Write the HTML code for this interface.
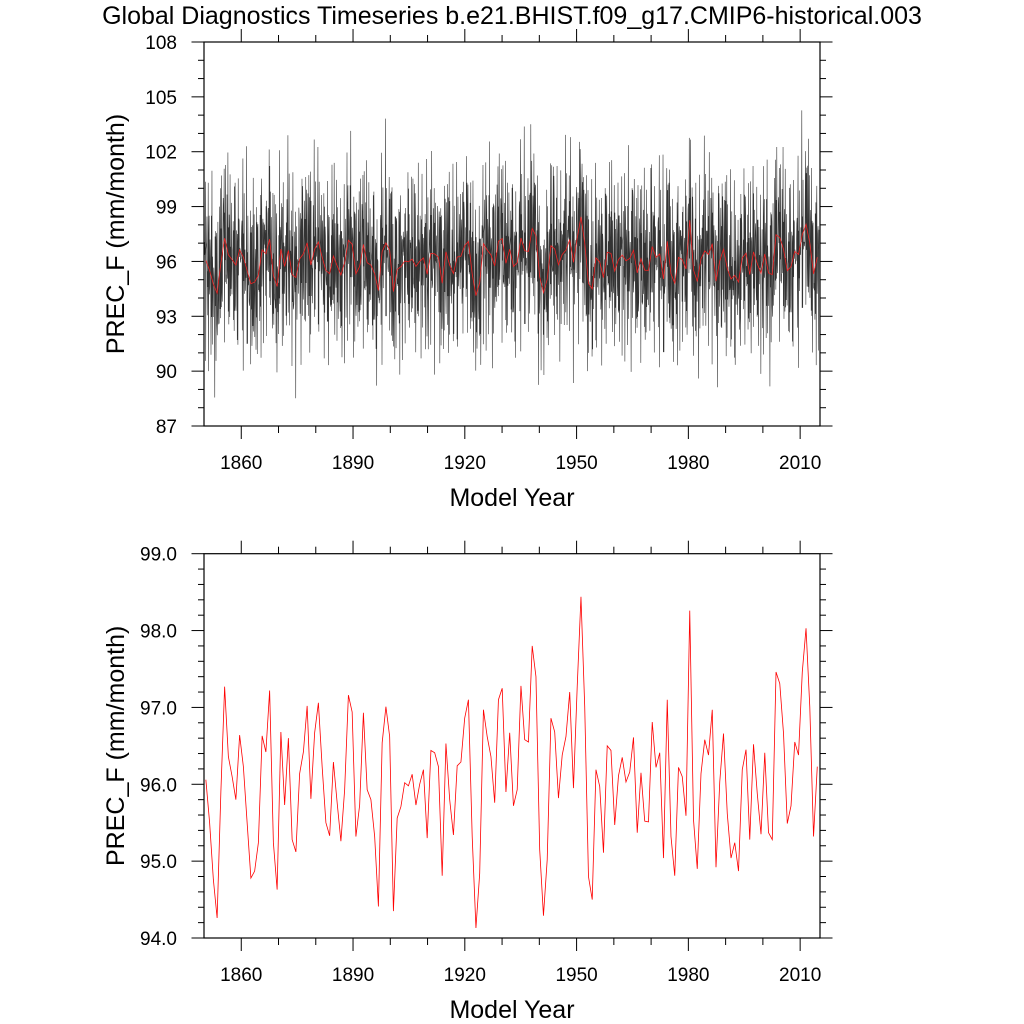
<!DOCTYPE html>
<html><head><meta charset="utf-8"><style>
html,body{margin:0;padding:0;background:#fff;width:1024px;height:1024px;overflow:hidden}
svg{display:block;font-family:"Liberation Sans",sans-serif}
</style></head><body>
<svg id="chart" width="1024" height="1024" viewBox="0 0 1024 1024">
<text x="512" y="24" text-anchor="middle" font-size="25">Global Diagnostics Timeseries b.e21.BHIST.f09_g17.CMIP6-historical.003</text>
<g id="top"></g>
<g id="bot"></g>
</svg>
<script>
const years = [];
for (let y = 1850; y <= 2013; y++) years.push(y);
const annualPrec = [96.06,95.5,94.76,94.26,95.9,97.27,96.36,96.1,95.8,96.64,96.23,95.5,94.78,94.87,95.24,96.63,96.42,97.22,95.24,94.63,
96.68,95.73,96.6,95.28,95.12,96.14,96.42,97.02,95.81,96.67,97.06,96.23,95.5,95.33,96.29,95.76,95.26,95.93,97.16,96.94,
95.32,95.73,96.93,95.93,95.8,95.32,94.41,96.54,97.01,96.62,94.35,95.56,95.71,96.02,95.98,96.13,95.73,96.0,96.19,95.3,
96.44,96.41,96.23,94.81,96.53,95.8,95.34,96.24,96.29,96.86,97.1,95.32,94.13,94.84,96.97,96.62,96.36,95.76,97.1,97.25,
95.9,96.67,95.72,95.93,97.28,96.58,96.55,97.8,97.4,95.15,94.29,95.02,96.86,96.68,95.82,96.38,96.62,97.2,95.95,97.27,
98.44,97.01,94.8,94.5,96.19,95.97,95.11,96.5,96.44,95.47,96.11,96.35,96.03,96.16,96.61,95.37,96.15,95.52,95.51,96.81,
96.22,96.41,95.04,97.1,95.32,94.81,96.22,96.1,95.59,98.26,95.54,94.9,96.14,96.58,96.38,96.97,94.92,96.03,96.66,95.62,
95.04,95.24,94.87,96.19,96.45,95.28,96.52,95.88,95.35,96.41,95.37,95.28,97.46,97.31,96.66,95.49,95.72,96.55,96.38,97.46,
98.03,97.01,95.32,96.23];
const seasonal = [-1.4,2.6,-2.1,0.9,3.2,-2.8,0.4,-1.1,2.0,-0.7,-2.4,1.3];
const residual = [0.8,-1.6,2.4,-0.3,1.1,-2.7,0.2,1.9,-1.0,3.1,-0.6,-1.9,0.5,2.2,-3.4,0.9,-0.2,1.5,-1.3,2.8,-0.9,0.3,-2.2,1.7,
-0.4,3.6,-1.2,0.6,-2.9,1.0,-0.1,2.0,-1.7,0.4,-3.8,1.3,0.7];
const xTicks = [1860,1890,1920,1950,1980,2010];
const topYTicks = [87,90,93,96,99,102,105,108];
const botYTicks = ["94.0","95.0","96.0","97.0","98.0","99.0"];

const NS = "http://www.w3.org/2000/svg";
function el(tag, attrs, parent){const e=document.createElementNS(NS,tag);for(const k in attrs)e.setAttribute(k,attrs[k]);parent.appendChild(e);return e;}
const X0=204,X1=820,XMIN=1850.0,XMAX=2015.33;
const xs = v => X0+(v-XMIN)/(XMAX-XMIN)*(X1-X0);
// annual series spans the full axis; map year to axis position
const first=years[0], last=years[years.length-1];
const yearPos = y => 1850.5 + (y-first)*(2014.6-1850.5)/(last-first);

function panel(g, top, bottom, ymin, ymax, minorStep, yLabels){
  const ys = v => bottom-(v-ymin)/(ymax-ymin)*(bottom-top);
  for(let v=ymin; v<=ymax+1e-6; v+=minorStep){
    const y=ys(v); const major = yLabels.some(t=>Math.abs(+t-v)<1e-6);
    const L = major?12.5:6;
    const t1=el('line',{x1:X0-L,x2:X0,y1:y,y2:y,stroke:'#000','stroke-width':1},g);
    
    
    const t2=el('line',{x1:X1,x2:X1+L,y1:y,y2:y,stroke:'#000','stroke-width':1},g);
    
    
  }
  yLabels.forEach(t=>{
    const tx=el('text',{x:X0-27,y:ys(+t)+7,'text-anchor':'end','font-size':19},g);
    tx.textContent=t;
    
    
  });
  for(let v=1860; v<=2010; v+=10){
    const x=xs(v); const major = xTicks.includes(v); const L = major?13:7;
    const a=el('line',{x1:x,x2:x,y1:bottom,y2:bottom+L,stroke:'#000','stroke-width':1},g);
    
    
    const b=el('line',{x1:x,x2:x,y1:top-L,y2:top,stroke:'#000','stroke-width':1},g);
    
    
  }
  xTicks.forEach(t=>{
    const tx=el('text',{x:xs(t),y:bottom+43,'text-anchor':'middle','font-size':19},g);
    tx.textContent=t;
    
    
  });
  const xl=el('text',{x:(X0+X1)/2+0,y:bottom+80,'text-anchor':'middle','font-size':25},g);
  xl.textContent='Model Year';
  
  
  const yl=el('text',{x:0,y:0,'text-anchor':'middle','font-size':25,transform:`translate(124,${(top+bottom)/2}) rotate(-90)`},g);
  yl.textContent='PREC_F (mm/month)';
  
  
  return ys;
}

const gT=document.getElementById('top');
const ysT=panel(gT,42,426,87,108,1,topYTicks.map(String));
let pts=[];
years.forEach((yr,i)=>{
  for(let m=0;m<12;m++){
    const k=i*12+m;
    const v=annualPrec[i]+seasonal[m]+residual[k%residual.length];
    pts.push(xs(yearPos(yr)-0.46+m/12).toFixed(2)+','+ysT(Math.max(87,Math.min(108,v))).toFixed(2));
  }
});
const ml=el('polyline',{points:pts.join(' '),fill:'none',stroke:'#000','stroke-width':0.6,'stroke-opacity':0.8},gT);


const rl=el('polyline',{points:years.map((y,i)=>xs(yearPos(y)).toFixed(2)+','+ysT(annualPrec[i]).toFixed(2)).join(' '),fill:'none',stroke:'#e22','stroke-width':0.8},gT);


const fT=el('rect',{x:X0,y:42,width:X1-X0,height:384,fill:'none',stroke:'#000','stroke-width':1.2},gT);



const gB=document.getElementById('bot');
const ysB=panel(gB,553.7,938,94,99,0.2,botYTicks);
const bl=el('polyline',{points:years.map((y,i)=>xs(yearPos(y)).toFixed(2)+','+ysB(annualPrec[i]).toFixed(2)).join(' '),fill:'none',stroke:'#f00','stroke-width':0.8},gB);


const fB=el('rect',{x:X0,y:553.7,width:X1-X0,height:384.3,fill:'none',stroke:'#000','stroke-width':1.2},gB);


</script>
</body></html>
